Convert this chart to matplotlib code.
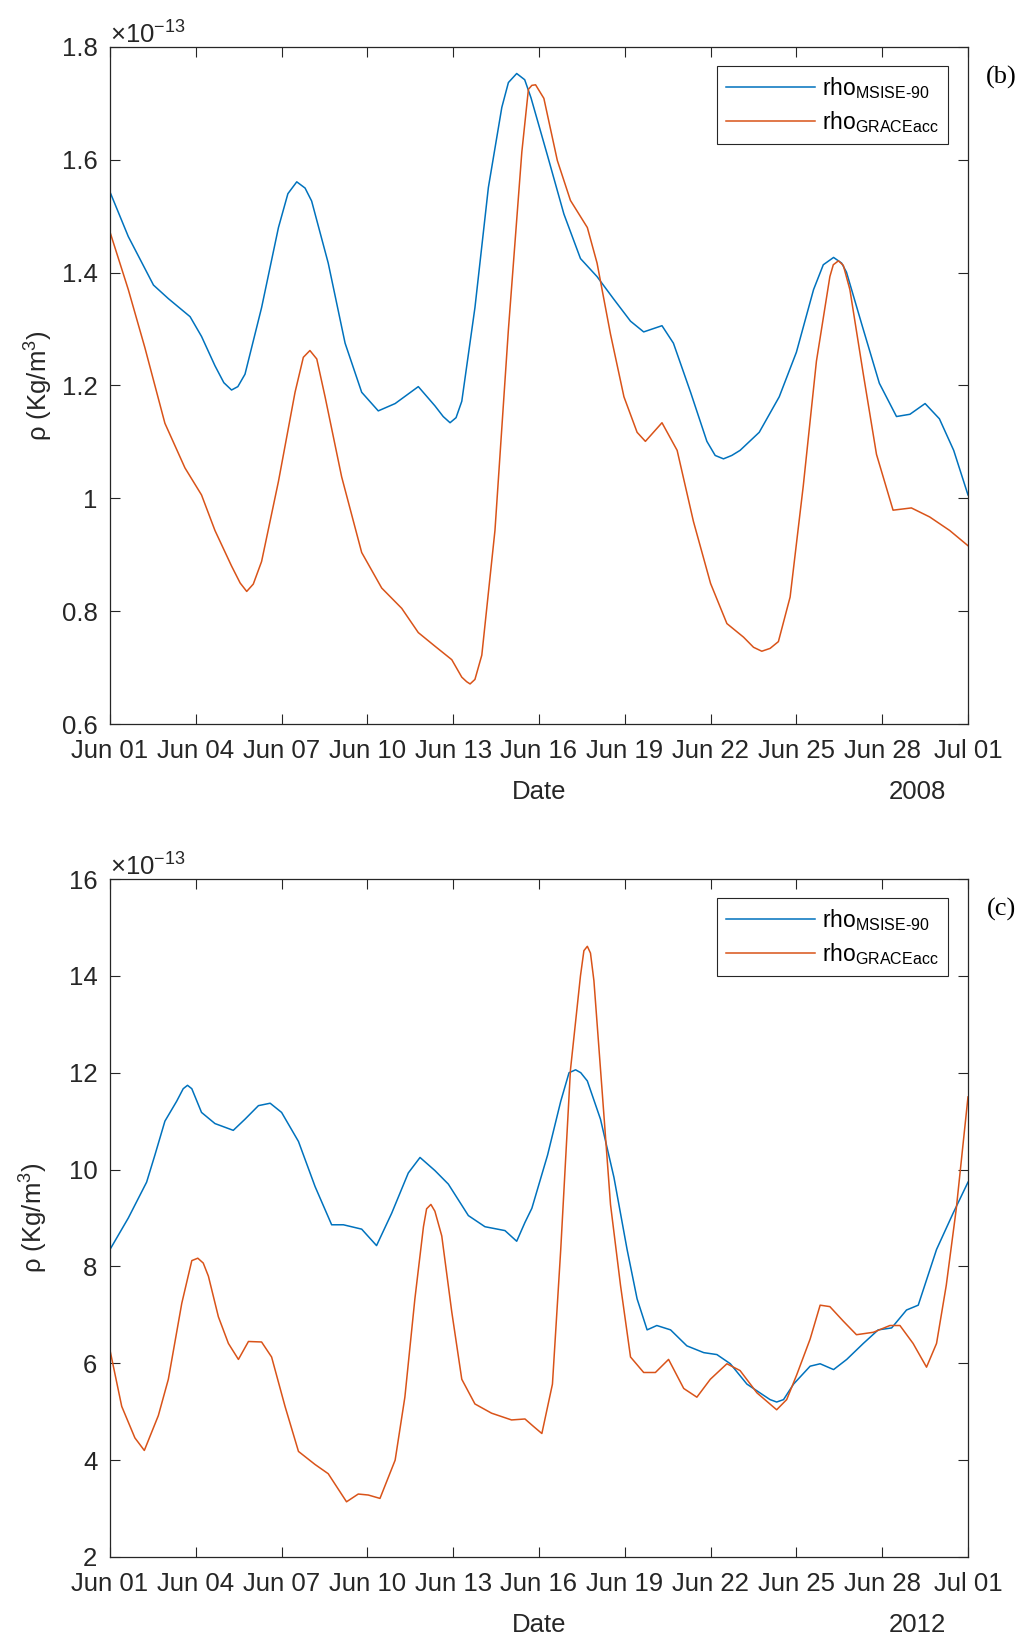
import numpy as np
import pandas as pd
import matplotlib
matplotlib.use('Agg')
import matplotlib.pyplot as plt
import matplotlib.dates as mdates
from matplotlib.ticker import FormatStrFormatter, MultipleLocator

plt.rcParams['font.family'] = ['Liberation Sans', 'DejaVu Sans']
plt.rcParams['mathtext.fontset'] = 'custom'
plt.rcParams['mathtext.rm'] = 'Liberation Sans'
plt.rcParams['mathtext.it'] = 'Liberation Sans:italic'

# days since Jun 01, density in units of 1e-13 kg/m^3
# (b) June 2008
t_msis_2008 = [0, 0.64, 1.52, 2.04, 2.8, 3.2, 3.67, 3.98, 4.25, 4.47, 4.72, 5.3, 5.89, 6.22,
               6.53, 6.82, 7.05, 7.63, 8.22, 8.8, 9.38, 9.97, 10.78, 11.36, 11.65, 11.89,
               12.1, 12.3, 12.76, 13.23, 13.7, 13.93, 14.22, 14.5, 14.72, 15.3, 15.87, 16.45,
               17.03, 17.6, 18.2, 18.66, 19.3, 19.7, 20.3, 20.87, 21.16, 21.45, 21.74, 22.03,
               22.7, 23.4, 24.0, 24.6, 24.94, 25.3, 25.58, 25.75, 26.3, 26.9, 27.5, 27.97,
               28.5, 29.0, 29.5, 30]
rho_msis_2008 = [1.543, 1.464, 1.378, 1.354, 1.322, 1.287, 1.235, 1.205, 1.192, 1.198, 1.22,
                 1.338, 1.48, 1.540, 1.561, 1.550, 1.527, 1.417, 1.275, 1.188, 1.155, 1.168,
                 1.198, 1.164, 1.145, 1.134, 1.143, 1.172, 1.338, 1.551, 1.693, 1.737, 1.753,
                 1.742, 1.71, 1.607, 1.504, 1.425, 1.393, 1.354, 1.314, 1.295, 1.306, 1.275,
                 1.188, 1.101, 1.076, 1.070, 1.076, 1.085, 1.117, 1.18, 1.259, 1.370, 1.414,
                 1.427, 1.417, 1.401, 1.306, 1.204, 1.145, 1.149, 1.168, 1.141, 1.085, 1.006]
t_grace_2008 = [0, 0.64, 1.22, 1.92, 2.62, 3.2, 3.67, 4.25, 4.55, 4.78, 5.01, 5.3, 5.89,
                6.47, 6.76, 6.99, 7.23, 7.52, 8.1, 8.8, 9.5, 10.2, 10.78, 11.36, 11.95, 12.3,
                12.47, 12.59, 12.76, 13.0, 13.46, 13.93, 14.4, 14.63, 14.75, 14.88, 15.17,
                15.64, 16.1, 16.69, 17.03, 17.5, 17.97, 18.43, 18.72, 19.3, 19.83, 20.4, 21.0,
                21.57, 22.15, 22.5, 22.79, 23.08, 23.37, 23.78, 24.24, 24.7, 25.17, 25.29,
                25.47, 25.64, 25.87, 26.34, 26.8, 27.38, 28.02, 28.66, 29.36, 30]
rho_grace_2008 = [1.472, 1.370, 1.267, 1.133, 1.054, 1.006, 0.943, 0.880, 0.850, 0.835, 0.848,
                  0.888, 1.030, 1.188, 1.250, 1.262, 1.247, 1.18, 1.038, 0.904, 0.841, 0.805,
                  0.762, 0.738, 0.714, 0.683, 0.675, 0.671, 0.679, 0.722, 0.943, 1.299, 1.614,
                  1.725, 1.732, 1.733, 1.709, 1.599, 1.528, 1.480, 1.417, 1.291, 1.18, 1.117,
                  1.101, 1.134, 1.085, 0.959, 0.849, 0.778, 0.754, 0.736, 0.729, 0.734, 0.746,
                  0.825, 1.022, 1.243, 1.393, 1.414, 1.421, 1.413, 1.370, 1.22, 1.078, 0.979,
                  0.983, 0.967, 0.943, 0.916]

# (c) June 2012
t_msis_2012 = [0, 0.64, 1.28, 1.57, 1.92, 2.33, 2.56, 2.71, 2.86, 3.2, 3.67, 4.31, 4.72,
               5.19, 5.6, 6.0, 6.59, 7.17, 7.75, 8.16, 8.8, 9.32, 9.85, 10.43, 10.84, 11.36,
               11.83, 12.53, 13.11, 13.81, 14.22, 14.51, 14.75, 15.0, 15.3, 15.76, 16.05,
               16.28, 16.46, 16.69, 17.15, 17.62, 18.08, 18.43, 18.78, 19.12, 19.6, 20.17,
               20.76, 21.22, 21.69, 22.27, 22.85, 23.08, 23.31, 23.55, 23.9, 24.48, 24.83,
               25.3, 25.76, 26.34, 26.86, 27.33, 27.85, 28.26, 28.9, 29.48, 30]
rho_msis_2012 = [8.35, 9.0, 9.74, 10.3, 11.0, 11.41, 11.67, 11.74, 11.67, 11.18, 10.95, 10.81,
                 11.04, 11.32, 11.37, 11.18, 10.58, 9.65, 8.86, 8.86, 8.77, 8.43, 9.1, 9.93,
                 10.25, 9.98, 9.70, 9.05, 8.82, 8.74, 8.52, 8.91, 9.2, 9.7, 10.3, 11.41, 12.0,
                 12.06, 12.0, 11.83, 11.04, 9.84, 8.35, 7.33, 6.69, 6.78, 6.69, 6.36, 6.22,
                 6.18, 5.99, 5.57, 5.34, 5.25, 5.2, 5.25, 5.57, 5.94, 5.99, 5.87, 6.08, 6.41,
                 6.69, 6.73, 7.1, 7.2, 8.35, 9.1, 9.74]
t_grace_2012 = [0, 0.41, 0.87, 1.2, 1.69, 2.04, 2.51, 2.86, 3.07, 3.26, 3.44, 3.79, 4.14,
                4.49, 4.84, 5.3, 5.65, 6.12, 6.59, 7.17, 7.63, 8.27, 8.68, 9.03, 9.44, 9.97,
                10.31, 10.66, 10.96, 11.07, 11.22, 11.36, 11.6, 11.95, 12.3, 12.76, 13.34,
                14.04, 14.51, 14.8, 15.1, 15.47, 15.76, 16.1, 16.45, 16.57, 16.69, 16.8,
                16.92, 17.21, 17.5, 17.85, 18.2, 18.66, 19.07, 19.53, 20.06, 20.52, 20.99,
                21.57, 22.03, 22.62, 23.31, 23.66, 24.01, 24.48, 24.83, 25.17, 25.64, 26.1,
                26.69, 27.27, 27.62, 28.08, 28.55, 28.9, 29.24, 29.59, 30]
rho_grace_2012 = [6.27, 5.11, 4.46, 4.2, 4.92, 5.67, 7.24, 8.12, 8.17, 8.07, 7.8, 6.96, 6.41,
                  6.08, 6.45, 6.44, 6.13, 5.11, 4.18, 3.91, 3.72, 3.14, 3.3, 3.28, 3.21, 4.0,
                  5.3, 7.33, 8.82, 9.19, 9.28, 9.14, 8.63, 7.06, 5.67, 5.16, 4.97, 4.83, 4.85,
                  4.7, 4.55, 5.57, 8.35, 12.06, 14.0, 14.52, 14.61, 14.47, 13.9, 11.6, 9.28,
                  7.61, 6.13, 5.81, 5.81, 6.08, 5.48, 5.3, 5.67, 5.99, 5.85, 5.39, 5.04, 5.25,
                  5.76, 6.5, 7.2, 7.17, 6.87, 6.59, 6.64, 6.78, 6.78, 6.41, 5.92, 6.41, 7.61,
                  9.19, 11.5]

panels = [
    ('2008', '(b)', t_msis_2008, rho_msis_2008, t_grace_2008, rho_grace_2008, (0.6, 1.8), 0.2),
    ('2012', '(c)', t_msis_2012, rho_msis_2012, t_grace_2012, rho_grace_2012, (2, 16), 2),
]

blue = '#0072BD'
orange = '#D95319'
dark = '#262626'

W, H = 1026, 1639
fig = plt.figure(figsize=(W / 100, H / 100), dpi=100)
boxes = [(47, 724), (879, 1557)]
x0, x1 = 110, 968

for (year, tag, tm, rm, tg, rg, ylim, step), (top, bot) in zip(panels, boxes):
    ax = fig.add_axes([x0 / W, 1 - bot / H, (x1 - x0) / W, (bot - top) / H])
    start = pd.Timestamp(f'{year}-06-01')
    dm = start + pd.to_timedelta(np.array(tm), unit='D')
    dg = start + pd.to_timedelta(np.array(tg), unit='D')
    ax.plot(dm, rm, color=blue, lw=1.1, label=r'rho$_{\mathrm{MSISE\text{-}90}}$')
    ax.plot(dg, rg, color=orange, lw=1.1, label=r'rho$_{\mathrm{GRACEacc}}$')

    ax.set_xlim(start, pd.Timestamp(f'{year}-07-01'))
    ax.set_ylim(*ylim)
    ax.xaxis.set_major_locator(mdates.DayLocator(bymonthday=[1, 4, 7, 10, 13, 16, 19, 22, 25, 28]))
    ax.xaxis.set_major_formatter(mdates.DateFormatter('%b %d'))
    ax.yaxis.set_major_locator(MultipleLocator(step))
    ax.yaxis.set_major_formatter(FormatStrFormatter('%g'))
    ax.tick_params(direction='in', top=True, right=True, length=7, width=0.8,
                   labelsize=18.5, colors=dark)
    ax.tick_params(axis='x', pad=11)
    ax.tick_params(axis='y', pad=9)
    for s in ax.spines.values():
        s.set_color(dark)
        s.set_linewidth(0.9)

    ax.set_xlabel('Date', fontsize=18.5, color=dark)
    ax.xaxis.set_label_coords(0.5, -56 / (bot - top))
    ax.set_ylabel(r'ρ (Kg/m$^3$)', fontsize=18.5, color=dark)
    ax.yaxis.set_label_coords(-0.064 if year == '2008' else -0.07, 0.5)
    ax.text(0.974, -56 / (bot - top), year, transform=ax.transAxes, ha='right', va='top',
            fontsize=18.5, color=dark)
    ax.text(0.0, 0.998, r'$\times$10$^{-13}$', transform=ax.transAxes, ha='left',
            va='bottom', fontsize=18.5, color=dark)

    leg = ax.legend(loc='upper right', bbox_to_anchor=((948 - x0) / (x1 - x0), 1 - 19 / (bot - top)),
                    borderaxespad=0, fontsize=16.5, handlelength=3.9, fancybox=False,
                    framealpha=1, edgecolor=dark, labelspacing=0.35, handletextpad=0.3,
                    borderpad=0.4)
    leg.get_frame().set_linewidth(0.8)

    fig.text(1001 / W, 1 - (top + 30) / H, tag, family='Liberation Serif', fontsize=19,
             ha='center', va='center')

fig.savefig('out.png', dpi=100)
